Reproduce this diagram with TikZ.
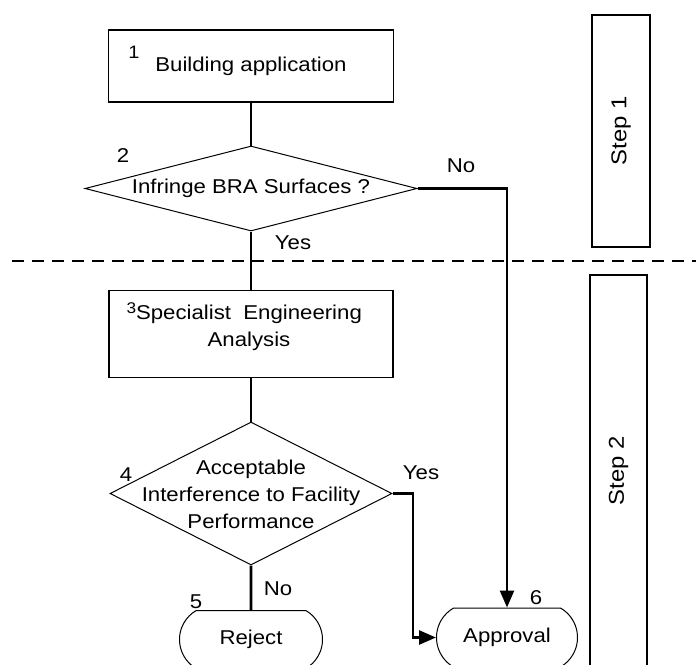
\documentclass[tikz,border=0pt]{standalone}
\usepackage{fontspec}
\setmainfont{Liberation Sans}[FakeStretch=1.11]
\usetikzlibrary{shapes.geometric,shapes.misc,arrows.meta}
\begin{document}
\begin{tikzpicture}[x=1pt,y=-1pt,
    font=\fontsize{20}{27}\selectfont,
    box/.style={draw,line width=1.6pt,inner sep=0pt},
    decision/.style={draw,diamond,line width=1pt,inner sep=0pt},
    terminal/.style={draw,rounded rectangle,rounded rectangle arc length=120,line width=1pt,inner sep=0pt},
    stepbox/.style={draw,rotate=90,line width=2.4pt,inner sep=0pt,font=\fontsize{21.5}{24}\selectfont},
    num/.style={inner sep=0pt},
    lab/.style={inner sep=0pt},
    conn/.style={line width=2.6pt},
    arr/.style={conn,-{Triangle[length=17pt,width=14pt]}}]
  \useasboundingbox (0,0) rectangle (696,664);
  \fill[white] (0,0) rectangle (696,664);
  % flow chart shapes
  \draw
    (251,66) node[box,minimum width=285pt,minimum height=72pt] (1) {Building application}
    (251,188.5) node[decision,minimum width=332pt,minimum height=85pt,aspect=3.9] (2) {Infringe BRA Surfaces ?}
    (251,334) node[box,minimum width=284pt,minimum height=87pt] (3) {}
    (251,493.5) node[decision,minimum width=282pt,minimum height=143pt] (4) {}
    (251,639.5) node[terminal,minimum width=143pt,minimum height=58pt] (5) {Reject}
    (507,637.5) node[terminal,minimum width=141pt,minimum height=59pt] (6) {Approval};
  \node[align=center] (t3) at (249,328) {Specialist\ \ Engineering\\Analysis};
  \node[align=center] (t4) at (251,494) {Acceptable\\Interference to Facility\\Performance};
  % step numbers
  \draw
    (134,52) node[num,font=\fontsize{18}{18}\selectfont] (l1) {1}
    (123,156) node[num] (l2) {2}
    (131.5,308.5) node[num,font=\fontsize{15.5}{15.5}\selectfont] (l3) {3}
    (126,475) node[num] (l4) {4}
    (196,602) node[num] (l5) {5}
    (536,598) node[num] (l6) {6};
  % stages
  \node[stepbox,minimum width=232pt,minimum height=58pt] (s1) at (621,131) {Step 1};
  \node[stepbox,minimum width=392pt,minimum height=57pt] (s2) at (618.5,471) {Step 2};
  \coordinate (dl) at (12,261);
  \coordinate (dr) at (696,261);
  \draw[line width=1.8pt,dash pattern=on 12pt off 8pt] (dl) -- (dr);
  % connectors
  \coordinate (c4) at (413,493.5);
  \draw[conn] (1) -- (2);
  \draw[conn] (2) -- (3);
  \draw[conn] (3) -- (4);
  \draw[conn] (4) -- (5);
  \draw[arr] (2.east) -| (6);
  \draw[arr] (4.east) -- (c4) |- (6);
  \draw
    (293,242.5) node[lab] (y2) {Yes}
    (461,166) node[lab] (n2) {No}
    (421,473) node[lab] (y4) {Yes}
    (278,589) node[lab] (n4) {No};
\end{tikzpicture}
\end{document}
